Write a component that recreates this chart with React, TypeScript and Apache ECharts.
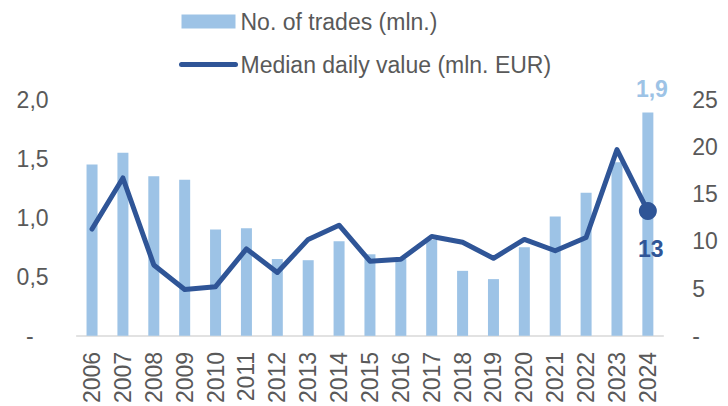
import React, { useEffect, useRef } from "react";
import * as echarts from "echarts";

const years = ["2006","2007","2008","2009","2010","2011","2012","2013","2014","2015","2016","2017","2018","2019","2020","2021","2022","2023","2024"];
const trades = [1.45, 1.55, 1.35, 1.32, 0.90, 0.91, 0.65, 0.64, 0.80, 0.69, 0.65, 0.81, 0.55, 0.48, 0.75, 1.01, 1.21, 1.47, 1.89];
const medianValue = [11.3, 16.7, 7.5, 4.9, 5.2, 9.2, 6.7, 10.2, 11.7, 7.9, 8.1, 10.5, 9.9, 8.2, 10.2, 9.0, 10.4, 19.7, 13.2];
const seriesNames = ["No. of trades (mln.)", "Median daily value (mln. EUR)"];

const FONT = "'Liberation Sans', Arial, sans-serif";
const TXT = "#595959";
const BAR = "#9DC3E6";
const LINE = "#2F5597";

export default function App() {
  const ref = useRef<HTMLDivElement>(null);
  useEffect(() => {
    if (!ref.current) return;
    const chart = echarts.init(ref.current, null, { renderer: "svg" });
    const last = years.length - 1;
    const barData = trades.map((v, i) =>
      i === last
        ? {
            value: v,
            label: {
              show: true,
              position: "top",
              offset: [4, -7],
              formatter: (p: any) => p.value.toFixed(1).replace(".", ","),
              color: BAR,
              fontWeight: "bold",
              fontSize: 23,
              fontFamily: FONT,
            },
          }
        : v
    );
    const lineData = medianValue.map((v, i) =>
      i === last
        ? {
            value: v,
            symbol: "circle",
            symbolSize: 18,
            label: {
              show: true,
              position: "bottom",
              offset: [3, 12],
              formatter: (p: any) => String(Math.round(p.value)),
              color: LINE,
              fontWeight: "bold",
              fontSize: 23,
              fontFamily: FONT,
            },
          }
        : v
    );
    chart.setOption({
      animation: false,
      textStyle: { fontFamily: FONT },
      legend: {
        orient: "vertical",
        left: 174,
        top: 5,
        itemWidth: 54,
        itemHeight: 14,
        itemGap: 20,
        textStyle: { fontSize: 23, color: TXT, fontFamily: FONT },
        data: [
          { name: seriesNames[0], icon: "rect" },
          {
            name: seriesNames[1],
            itemStyle: { opacity: 0 },
            lineStyle: { width: 5, color: LINE, cap: "round" },
          },
        ],
      },
      grid: { left: 76.6, right: 64.7, top: 99.5, bottom: 65, containLabel: false },
      xAxis: {
        type: "category",
        data: years,
        axisLine: { lineStyle: { color: "#D9D9D9", width: 1.5 } },
        axisTick: { show: false },
        axisLabel: {
          rotate: 90,
          margin: 16,
          fontSize: 23,
          color: TXT,
          fontFamily: FONT,
        },
      },
      yAxis: [
        {
          type: "value",
          min: 0,
          max: 2,
          interval: 0.5,
          splitLine: { show: false },
          axisLine: { show: false },
          axisTick: { show: false },
          axisLabel: {
            margin: 28,
            fontSize: 23,
            color: TXT,
            fontFamily: FONT,
            formatter: (v: number) => (v === 0 ? "{d|-}" : v.toFixed(1).replace(".", ",")),
            rich: { d: { fontSize: 23, color: TXT, fontFamily: FONT, padding: [0, 15, 0, 0] } },
          },
        },
        {
          type: "value",
          min: 0,
          max: 25,
          interval: 5,
          position: "right",
          splitLine: { show: false },
          axisLine: { show: false },
          axisTick: { show: false },
          axisLabel: {
            margin: 29,
            fontSize: 23,
            color: TXT,
            fontFamily: FONT,
            formatter: (v: number) => (v === 0 ? "-" : String(v)),
          },
        },
      ],
      series: [
        {
          name: seriesNames[0],
          type: "bar",
          yAxisIndex: 0,
          barWidth: 11,
          itemStyle: { color: BAR },
          data: barData,
          z: 1,
        },
        {
          name: seriesNames[1],
          type: "line",
          yAxisIndex: 1,
          symbol: "none",
          lineStyle: { color: LINE, width: 5, cap: "round", join: "round" },
          itemStyle: { color: LINE },
          data: lineData,
          z: 3,
        },
      ],
    });
    return () => chart.dispose();
  }, []);
  return <div ref={ref} style={{ position: "absolute", left: 0, top: 0, width: 728, height: 406 }} />;
}
